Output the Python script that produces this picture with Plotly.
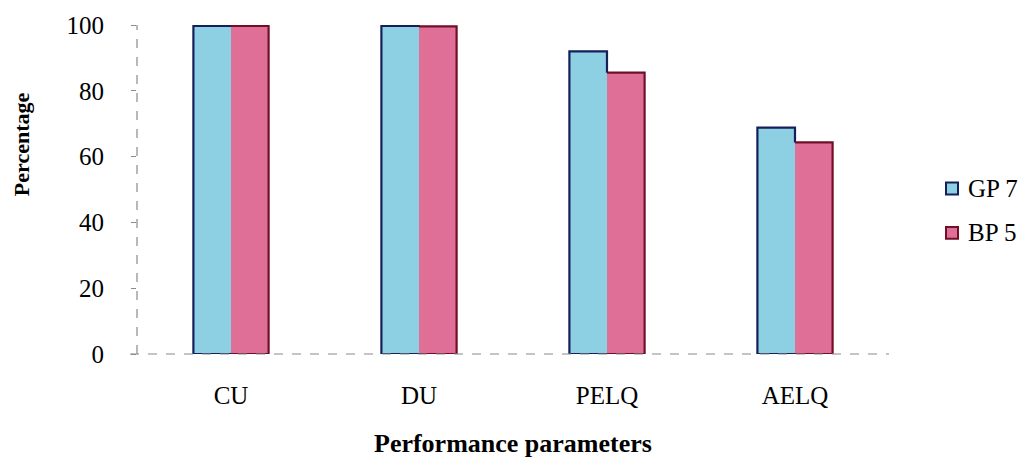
import plotly.graph_objects as go

# Performance parameters and percentages for the two plots
categories = ["CU", "DU", "PELQ", "AELQ"]
gp7 = [99.7, 99.7, 92.0, 68.8]
bp5 = [99.7, 99.6, 85.5, 64.3]
series_names = ["GP 7", "BP 5"]
y_ticks = [0, 20, 40, 60, 80, 100]

W, H = 1035, 461
L, R, T, B = 137, 146, 20, 107
PW, PH = W - L - R, H - T - B

FONT = "Liberation Serif"
GP_FILL, GP_EDGE = "#8dcfe3", "#15205a"
BP_FILL, BP_EDGE = "#e06f98", "#701028"
HALF = 0.2  # width of one bar, in category units

xs = list(range(len(categories)))

fig = go.Figure()
fig.add_trace(go.Bar(x=xs, y=gp7, offset=-HALF, width=HALF,
                     marker=dict(color=GP_FILL, line=dict(width=0)),
                     name=series_names[0], showlegend=False))
fig.add_trace(go.Bar(x=xs, y=bp5, offset=0, width=HALF,
                     marker=dict(color=BP_FILL, line=dict(width=0)),
                     name=series_names[1], showlegend=False))

# Outline of each bar pair: navy round the GP bar, maroon round the BP bar
gx, gy, bx, by = [], [], [], []
for i, g, b in zip(xs, gp7, bp5):
    gx += [i, i - HALF, i - HALF, i, i, None]
    gy += [0, 0, g, g, min(g, b) if g > b else g, None]
    bx += [i, i, i + HALF, i + HALF, i, None]
    by += [max(g, b) if b > g else b, b, b, 0, 0, None]
fig.add_trace(go.Scatter(x=gx, y=gy, mode="lines", cliponaxis=False,
                         line=dict(color=GP_EDGE, width=2.2),
                         hoverinfo="skip", showlegend=False))
fig.add_trace(go.Scatter(x=bx, y=by, mode="lines", cliponaxis=False,
                         line=dict(color=BP_EDGE, width=2.2),
                         hoverinfo="skip", showlegend=False))

def px_x(p):
    return (p - L) / PW

def px_y(p):
    return (T + PH - p) / PH

shapes = [
    # dashed grey axis lines
    dict(type="line", xref="paper", yref="paper", x0=0, x1=0, y0=0, y1=1,
         line=dict(color="#8a8a8a", width=1.2, dash="dash")),
    dict(type="line", xref="paper", yref="paper", x0=px_x(130), x1=1, y0=0, y1=0,
         line=dict(color="#8a8a8a", width=1.2, dash="dash")),
]
annotations = [
    dict(text="<b>Percentage</b>", xref="paper", yref="paper",
         x=px_x(21), y=px_y(141), textangle=-90, showarrow=False,
         font=dict(family=FONT, size=22, color="black"),
         xanchor="center", yanchor="middle"),
    dict(text="<b>Performance parameters</b>", xref="paper", yref="paper",
         x=0.5, y=px_y(445), showarrow=False,
         font=dict(family=FONT, size=26, color="black"),
         xanchor="center", yanchor="middle"),
]

# Legend: small bordered squares with labels
for k, (nm, fill, edge) in enumerate([(series_names[0], GP_FILL, GP_EDGE),
                                      (series_names[1], BP_FILL, BP_EDGE)]):
    cy = 186 + 45 * k
    shapes.append(dict(type="rect", xref="paper", yref="paper",
                       x0=px_x(946), x1=px_x(958), y0=px_y(cy - 6), y1=px_y(cy + 6),
                       fillcolor=fill, line=dict(color=edge, width=2)))
    annotations.append(dict(text=nm, xref="paper", yref="paper",
                            x=px_x(966), y=px_y(cy), showarrow=False,
                            xanchor="left", yanchor="middle",
                            font=dict(family=FONT, size=25, color="black")))

fig.update_layout(
    width=W, height=H,
    margin=dict(l=L, r=R, t=T, b=B),
    paper_bgcolor="white", plot_bgcolor="white",
    barmode="overlay",
    showlegend=False,
    shapes=shapes,
    annotations=annotations,
    xaxis=dict(range=[-0.5, len(categories) - 0.5], tickvals=xs,
               ticktext=categories, showgrid=False, zeroline=False,
               showline=False, ticks="", ticklabelstandoff=24,
               tickfont=dict(family=FONT, size=25, color="black")),
    yaxis=dict(range=[0, 100], tickvals=y_ticks, showgrid=False,
               zeroline=False, showline=False, ticks="outside", ticklen=5,
               tickcolor="#8a8a8a", ticklabelstandoff=22,
               tickfont=dict(family=FONT, size=25, color="black")),
)

fig.write_html("out.html")
